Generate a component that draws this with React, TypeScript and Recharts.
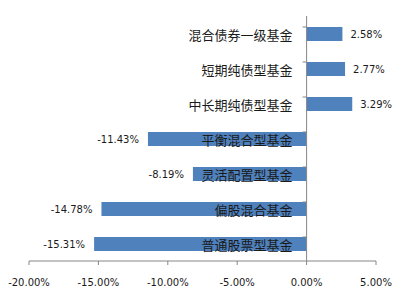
import { Bar, BarChart, LabelList, ReferenceLine, Rectangle, XAxis, YAxis } from 'recharts'

const categories = [
  '混合债券一级基金',
  '短期纯债型基金',
  '中长期纯债型基金',
  '平衡混合型基金',
  '灵活配置型基金',
  '偏股混合基金',
  '普通股票型基金',
]
const returns = [2.58, 2.77, 3.29, -11.43, -8.19, -14.78, -15.31]
const xTicks = [-20, -15, -10, -5, 0, 5]

const data = categories.map((name, i) => ({ name, value: returns[i] }))

const BLUE = '#4f81bd'
const AXIS = '#868686'
const TEXT = '#1a1a1a'
const NUM_FONT = '"DejaVu Sans", sans-serif'
const CJK_FONT = '"Noto Sans CJK SC", sans-serif'

const zeroOf = (x: number, width: number, value: number) =>
  value >= 0 ? Math.min(x, x + width) : Math.max(x, x + width)

function BarShape(props: any) {
  const { x, y, width, height, value, background } = props
  const zero = zeroOf(x, width, value)
  const bandTop = background && background.y != null ? background.y : y + height / 2 - 17.5
  return (
    <g>
      <Rectangle x={x} y={y} width={width} height={height} fill={BLUE} />
      <line x1={zero - 4} x2={zero} y1={bandTop} y2={bandTop} stroke={AXIS} />
    </g>
  )
}

function NameLabel(props: any) {
  const { x, y, width, height, value, index } = props
  const zero = zeroOf(x, width, returns[index])
  return (
    <text
      x={zero - 14}
      y={y + height / 2}
      textAnchor="end"
      dominantBaseline="central"
      fontFamily={CJK_FONT}
      fontSize={13}
      fill={TEXT}
    >
      {value}
    </text>
  )
}

function ValueLabel(props: any) {
  const { x, y, width, height, value } = props
  const left = Math.min(x, x + width)
  const right = Math.max(x, x + width)
  const pos = value >= 0
  return (
    <text
      x={pos ? right + 8 : left - 9}
      y={y + height / 2}
      textAnchor={pos ? 'start' : 'end'}
      dominantBaseline="central"
      fontFamily={NUM_FONT}
      fontSize={10}
      fill={TEXT}
    >
      {`${value.toFixed(2)}%`}
    </text>
  )
}

export default function App() {
  return (
    <div style={{ position: 'absolute', left: 0, top: 0, background: '#fff' }}>
      <BarChart
        width={403}
        height={298}
        data={data}
        layout="vertical"
        margin={{ top: 16, right: 27, left: 29, bottom: 0 }}
        barSize={14}
      >
        <XAxis
          type="number"
          domain={[-20, 5]}
          ticks={xTicks}
          height={37}
          stroke={AXIS}
          tickSize={4}
          tickMargin={14}
          tick={{ fill: TEXT, fontSize: 10, fontFamily: NUM_FONT }}
          tickFormatter={(v: number) => `${v.toFixed(2)}%`}
          interval={0}
        />
        <YAxis type="category" dataKey="name" hide />
        <Bar dataKey="value" shape={<BarShape />} isAnimationActive={false}>
          <LabelList dataKey="name" content={<NameLabel />} />
          <LabelList dataKey="value" content={<ValueLabel />} />
        </Bar>
        <ReferenceLine x={0} stroke={AXIS} />
      </BarChart>
    </div>
  )
}
